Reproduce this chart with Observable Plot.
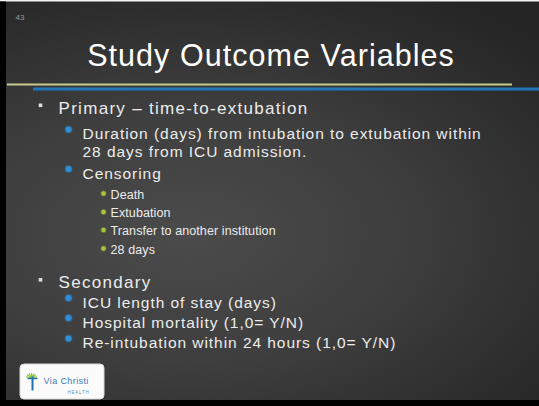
<!DOCTYPE html>
<html>
<head>
<meta charset="utf-8">
<script src="https://cdn.jsdelivr.net/npm/d3@7"></script>
<script src="https://cdn.jsdelivr.net/npm/@observablehq/plot@0.6"></script>
<style>
  html, body { margin: 0; padding: 0; background: #000; }
  #chart svg { display: block; }
</style>
</head>
<body>
<div id="chart"></div>
<script>
// ---- content ----
const slideNumber = "43";
const title = "Study Outcome Variables";
const primaryHeading = "Primary \u2013 time-to-extubation";
const primaryItems = [
  "Duration (days) from intubation to extubation within\n28 days from ICU admission.",
  "Censoring"
];
const censoringItems = ["Death", "Extubation", "Transfer to another institution", "28 days"];
const secondaryHeading = "Secondary";
const secondaryItems = [
  "ICU length of stay (days)",
  "Hospital mortality (1,0= Y/N)",
  "Re-intubation within 24 hours (1,0= Y/N)"
];
const logoName = "Via Christi";
const logoSub = "HEALTH";

// ---- layout ----
const W = 539, H = 406;
const levelStyle = {
  1: {x: 58, bx: 40.5, size: 17, spacing: 1.3},
  2: {x: 82, bx: 68, size: 15.5, spacing: 0.95},
  3: {x: 110, bx: 103, size: 12.5, spacing: 0.1}
};
const titleSize = 30.5, titleSpacing = 1.05;
const lineStep = 17.5;      // line height inside a wrapped item
const firstBaseline = 113;  // baseline of first row
// gap (baseline to baseline) before each row after the first
const rowGaps = [25.5, 22, 20, 18.5, 18, 18.5, 34.5, 19.5, 20, 20.5];

const rowsSeq = [
  {text: primaryHeading, level: 1},
  ...primaryItems.map(t => ({text: t, level: 2})),
  ...censoringItems.map(t => ({text: t, level: 3})),
  {text: secondaryHeading, level: 1},
  ...secondaryItems.map(t => ({text: t, level: 2}))
];
let yb = firstBaseline;
const rows = rowsSeq.map((r, i) => {
  if (i > 0) {
    const prevLines = rowsSeq[i - 1].text.split("\n").length;
    yb += (prevLines - 1) * lineStep + rowGaps[i - 1];
  }
  const nLines = r.text.split("\n").length;
  return {...r, ...levelStyle[r.level], firstY: yb, y: yb + (nLines - 1) * lineStep};
});
const rowsL = lv => rows.filter(r => r.level === lv);

// logo icon strokes
const logoRays = d3.range(7).map(i => {
  const a = -Math.PI * 0.95 + i * Math.PI * 0.9 / 6;
  return {x1: 31, y1: 377, x2: 31 + 5.5 * Math.cos(a), y2: 377 + 4.5 * Math.sin(a)};
});

const textMark = (data, lv) => Plot.text(data, {
  x: "x", y: "y", text: "text", textAnchor: "start", lineAnchor: "bottom",
  lineHeight: lineStep / levelStyle[lv].size, fontSize: levelStyle[lv].size, fill: "#ececec"
});

const chart = Plot.plot({
  width: W,
  height: H,
  margin: 0,
  x: {domain: [0, W], axis: null},
  y: {domain: [0, H], axis: null, reverse: true},
  style: {
    background: "radial-gradient(ellipse 90% 70% at 35% 58%, #4b4b4b 0%, #3e3e3e 45%, #2b2b2b 85%, #252525 100%)",
    fontFamily: "Liberation Sans, Arial, sans-serif",
    overflow: "visible"
  },
  marks: [
    // frame
    Plot.rect([0], {x1: 0, x2: W, y1: 0, y2: 1.5, fill: "#f4f4f4"}),
    Plot.rect([0], {x1: 0, x2: 6, y1: 1.5, y2: H, fill: "#000"}),
    Plot.rect([0], {x1: 0, x2: W, y1: 400, y2: H, fill: "#000"}),
    // slide number
    Plot.text([slideNumber], {x: 15, y: 19, text: d => d, textAnchor: "start", lineAnchor: "bottom", fontSize: 8, fill: "#9a9a9a"}),
    // title
    Plot.text([title], {x: 270 + titleSpacing / 2, y: 65, text: d => d, textAnchor: "middle", lineAnchor: "bottom", fontSize: titleSize, fill: "#ffffff"}),
    // rules under title
    Plot.ruleY([84], {x1: 7, x2: 512, stroke: "#c8c98e", strokeWidth: 2}),
    Plot.ruleY([88.5], {x1: 33, x2: W, stroke: "#2277bb", strokeWidth: 3}),
    // bullets
    Plot.rect(rowsL(1), {x1: d => d.bx - 1.8, x2: d => d.bx + 1.8, y1: d => d.firstY - 9.5, y2: d => d.firstY - 5.9, fill: "#dddddd"}),
    Plot.dot(rowsL(2), {x: "bx", y: d => d.firstY - 9.5, r: 3, fill: "#2f8fd8", stroke: "#2f8fd8", strokeOpacity: 0.35, strokeWidth: 2}),
    Plot.dot(rowsL(3), {x: "bx", y: d => d.firstY - 5, r: 2.2, fill: "#a8c63a", stroke: "#a8c63a", strokeOpacity: 0.35, strokeWidth: 1.5}),
    // text rows
    textMark(rowsL(1), 1),
    textMark(rowsL(2), 2),
    textMark(rowsL(3), 3),
    // logo box
    Plot.rect([0], {x1: 20, x2: 104, y1: 364, y2: 399, fill: "#fbfbfb", rx: 4, stroke: "#d8d8d8"}),
    Plot.link(logoRays, {x1: "x1", y1: "y1", x2: "x2", y2: "y2", stroke: "#8cc63f", strokeWidth: 1.2}),
    Plot.link([0], {x1: 32, y1: 376, x2: 32, y2: 390, stroke: "#1f6fb5", strokeWidth: 2}),
    Plot.link([0], {x1: 27, y1: 378, x2: 37, y2: 378, stroke: "#1f6fb5", strokeWidth: 1.4}),
    Plot.text([logoName], {x: 43, y: 383, text: d => d, textAnchor: "start", lineAnchor: "bottom", fontSize: 9, fill: "#3a78b8"}),
    Plot.text([logoSub], {x: 78, y: 393, text: d => d, textAnchor: "middle", lineAnchor: "bottom", fontSize: 4.5, fill: "#6a8fb5"})
  ]
});

// letter spacing per text size (Plot has no letter-spacing option)
const spacingBySize = {
  [titleSize]: titleSpacing,
  [levelStyle[1].size]: levelStyle[1].spacing,
  [levelStyle[2].size]: levelStyle[2].spacing,
  [levelStyle[3].size]: levelStyle[3].spacing,
  9: 0.4,
  4.5: 0.8
};
d3.select(chart).selectAll("g[font-size]").each(function () {
  const s = +this.getAttribute("font-size");
  if (spacingBySize[s] != null) this.setAttribute("letter-spacing", spacingBySize[s] + "px");
});
document.getElementById("chart").append(chart);
</script>
</body>
</html>
